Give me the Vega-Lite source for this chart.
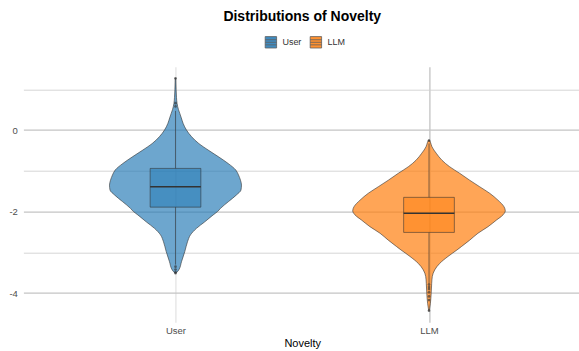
{
  "$schema": "https://vega.github.io/schema/vega-lite/v6.json",
  "width": 557.7,
  "height": 255.6,
  "autosize": {"type": "none"},
  "padding": {"left": 23.4, "top": 66.7, "right": 0, "bottom": 28.7},
  "background": "white",
  "title": {"text": "Distributions of Novelty", "font": "Liberation Sans", "fontSize": 14, "fontWeight": "bold", "color": "#000000", "anchor": "middle", "offset": 12},
  "datasets": {
    "violin": [
      {"group": "User", "value": 1.27, "density": 0.0024},
      {"group": "User", "value": 1.0, "density": 0.0048},
      {"group": "User", "value": 0.8, "density": 0.008},
      {"group": "User", "value": 0.65, "density": 0.0128},
      {"group": "User", "value": 0.5, "density": 0.024},
      {"group": "User", "value": 0.41, "density": 0.0344},
      {"group": "User", "value": 0.3, "density": 0.0464},
      {"group": "User", "value": 0.16, "density": 0.0616},
      {"group": "User", "value": 0.0, "density": 0.088},
      {"group": "User", "value": -0.16, "density": 0.128},
      {"group": "User", "value": -0.33, "density": 0.1864},
      {"group": "User", "value": -0.49, "density": 0.2616},
      {"group": "User", "value": -0.65, "density": 0.3416},
      {"group": "User", "value": -0.82, "density": 0.4216},
      {"group": "User", "value": -0.98, "density": 0.4824},
      {"group": "User", "value": -1.1, "density": 0.504},
      {"group": "User", "value": -1.23, "density": 0.52},
      {"group": "User", "value": -1.35, "density": 0.528},
      {"group": "User", "value": -1.47, "density": 0.524},
      {"group": "User", "value": -1.59, "density": 0.488},
      {"group": "User", "value": -1.76, "density": 0.4216},
      {"group": "User", "value": -1.92, "density": 0.36},
      {"group": "User", "value": -2.0, "density": 0.336},
      {"group": "User", "value": -2.08, "density": 0.3016},
      {"group": "User", "value": -2.25, "density": 0.2344},
      {"group": "User", "value": -2.41, "density": 0.168},
      {"group": "User", "value": -2.57, "density": 0.12},
      {"group": "User", "value": -2.74, "density": 0.096},
      {"group": "User", "value": -2.98, "density": 0.0744},
      {"group": "User", "value": -3.23, "density": 0.048},
      {"group": "User", "value": -3.43, "density": 0.0264},
      {"group": "User", "value": -3.51, "density": 0.004},
      {"group": "LLM", "value": -0.245, "density": 0.004},
      {"group": "LLM", "value": -0.3, "density": 0.012},
      {"group": "LLM", "value": -0.41, "density": 0.024},
      {"group": "LLM", "value": -0.57, "density": 0.0584},
      {"group": "LLM", "value": -0.74, "density": 0.104},
      {"group": "LLM", "value": -0.9, "density": 0.1656},
      {"group": "LLM", "value": -1.06, "density": 0.2456},
      {"group": "LLM", "value": -1.23, "density": 0.3256},
      {"group": "LLM", "value": -1.39, "density": 0.4056},
      {"group": "LLM", "value": -1.55, "density": 0.4856},
      {"group": "LLM", "value": -1.72, "density": 0.552},
      {"group": "LLM", "value": -1.88, "density": 0.6},
      {"group": "LLM", "value": -1.98, "density": 0.6104},
      {"group": "LLM", "value": -2.08, "density": 0.592},
      {"group": "LLM", "value": -2.21, "density": 0.5384},
      {"group": "LLM", "value": -2.37, "density": 0.472},
      {"group": "LLM", "value": -2.53, "density": 0.392},
      {"group": "LLM", "value": -2.7, "density": 0.3256},
      {"group": "LLM", "value": -2.86, "density": 0.2584},
      {"group": "LLM", "value": -2.94, "density": 0.224},
      {"group": "LLM", "value": -3.1, "density": 0.152},
      {"group": "LLM", "value": -3.27, "density": 0.0856},
      {"group": "LLM", "value": -3.43, "density": 0.0456},
      {"group": "LLM", "value": -3.59, "density": 0.0264},
      {"group": "LLM", "value": -3.76, "density": 0.0216},
      {"group": "LLM", "value": -4.0, "density": 0.0176},
      {"group": "LLM", "value": -4.25, "density": 0.0112},
      {"group": "LLM", "value": -4.43, "density": 0.0024}
    ],
    "box": [
      {"group": "User", "lo": -3.3, "q1": -1.89, "median": -1.39, "q3": -0.94, "hi": 0.47},
      {"group": "LLM", "lo": -3.77, "q1": -2.51, "median": -2.04, "q3": -1.65, "hi": -0.33}
    ],
    "outliers": [
      {"group": "User", "value": 1.27},
      {"group": "User", "value": 0.66},
      {"group": "User", "value": 0.58},
      {"group": "User", "value": -3.35},
      {"group": "User", "value": -3.42},
      {"group": "User", "value": -3.48},
      {"group": "User", "value": -3.51},
      {"group": "LLM", "value": -0.26},
      {"group": "LLM", "value": -3.79},
      {"group": "LLM", "value": -3.85},
      {"group": "LLM", "value": -3.9},
      {"group": "LLM", "value": -3.98},
      {"group": "LLM", "value": -4.08},
      {"group": "LLM", "value": -4.17},
      {"group": "LLM", "value": -4.43}
    ]
  },
  "layer": [
    {
      "data": {"name": "violin"},
      "transform": [{"filter": "datum.group == 'User'"}],
      "mark": {"type": "area", "orient": "horizontal", "interpolate": "monotone", "fillOpacity": 0.65, "stroke": "#333333", "strokeWidth": 0.6},
      "encoding": {
        "y": {"field": "value", "type": "quantitative", "title": null, "scale": {"domain": [-4.715, 1.555], "nice": false, "zero": false}, "axis": {"values": [-4, -3, -2, -1, 0, 1], "labelExpr": "datum.value % 2 == 0 ? '' + datum.value : ''", "ticks": false, "domain": false, "grid": true, "gridColor": {"condition": {"test": "datum.value % 2 == 0", "value": "#c4c4c4"}, "value": "#d0d0d0"}, "gridWidth": {"condition": {"test": "datum.value % 2 == 0", "value": 1.2}, "value": 0.9}, "labelFont": "Liberation Sans", "labelFontSize": 9.5, "labelColor": "#4d4d4d", "labelPadding": 6}},
        "x": {"field": "density", "type": "quantitative", "stack": "center", "impute": null, "axis": null, "scale": {"domain": [-0.3444, 1.8864], "nice": false, "zero": false}},
        "color": {"field": "group", "type": "nominal", "scale": {"domain": ["User", "LLM"], "range": ["#1f77b4", "#ff7f0e"]}, "legend": {"title": null, "orient": "none", "legendX": 241, "legendY": -31, "direction": "horizontal", "symbolType": "M-1,-1H1V1H-1Z M-1,-0.45H1 M-1,0H1 M-1,0.45H1", "symbolSize": 130, "symbolStrokeColor": "#444444", "symbolStrokeWidth": 0.8, "symbolOpacity": 0.85, "labelFont": "Liberation Sans", "labelFontSize": 9, "labelColor": "#333333", "labelOffset": 5, "columnPadding": 6, "padding": 0}}
      }
    },
    {
      "data": {"name": "violin"},
      "transform": [{"filter": "datum.group == 'LLM'"}],
      "mark": {"type": "area", "orient": "horizontal", "interpolate": "monotone", "fillOpacity": 0.7, "stroke": "#333333", "strokeWidth": 0.6},
      "encoding": {
        "y": {"field": "value", "type": "quantitative", "title": null, "scale": {"domain": [-4.715, 1.555], "nice": false, "zero": false}, "axis": {"values": [-4, -3, -2, -1, 0, 1], "labelExpr": "datum.value % 2 == 0 ? '' + datum.value : ''", "ticks": false, "domain": false, "grid": true, "gridColor": {"condition": {"test": "datum.value % 2 == 0", "value": "#c4c4c4"}, "value": "#d0d0d0"}, "gridWidth": {"condition": {"test": "datum.value % 2 == 0", "value": 1.2}, "value": 0.9}, "labelFont": "Liberation Sans", "labelFontSize": 9.5, "labelColor": "#4d4d4d", "labelPadding": 6}},
        "x": {"field": "density", "type": "quantitative", "stack": "center", "impute": null, "axis": null, "scale": {"domain": [-1.3172, 0.9136], "nice": false, "zero": false}},
        "color": {"field": "group", "type": "nominal", "scale": {"domain": ["User", "LLM"], "range": ["#1f77b4", "#ff7f0e"]}, "legend": {"title": null, "orient": "none", "legendX": 241, "legendY": -31, "direction": "horizontal", "symbolType": "M-1,-1H1V1H-1Z M-1,-0.45H1 M-1,0H1 M-1,0.45H1", "symbolSize": 130, "symbolStrokeColor": "#444444", "symbolStrokeWidth": 0.8, "symbolOpacity": 0.85, "labelFont": "Liberation Sans", "labelFontSize": 9, "labelColor": "#333333", "labelOffset": 5, "columnPadding": 6, "padding": 0}}
      }
    },
    {
      "data": {"name": "box"},
      "encoding": {
        "x": {"field": "group", "type": "nominal", "scale": {"type": "point", "domain": ["User", "LLM"], "padding": 0.6}, "axis": {"title": "Novelty", "titleFont": "Liberation Sans", "titleFontSize": 11, "titleFontWeight": "normal", "titleColor": "#000000", "titlePadding": 3, "labelFont": "Liberation Sans", "labelFontSize": 9.5, "labelColor": "#4d4d4d", "labelPadding": 3, "labelAngle": 0, "ticks": false, "domain": false, "grid": true, "gridColor": {"condition": {"test": "datum.value == 'LLM'", "value": "#c8c8c8"}, "value": "#e6e6e6"}, "gridWidth": 1.4}}
      },
      "layer": [
        {
          "mark": {"type": "rule", "color": "#333333", "strokeWidth": 0.6},
          "encoding": {
            "y": {"field": "lo", "type": "quantitative", "title": null},
            "y2": {"field": "q1"}
          }
        },
        {
          "mark": {"type": "rule", "color": "#333333", "strokeWidth": 0.6},
          "encoding": {
            "y": {"field": "q3", "type": "quantitative", "title": null},
            "y2": {"field": "hi"}
          }
        },
        {
          "mark": {"type": "bar", "size": 50.7, "fillOpacity": 0.5, "stroke": "#333333", "strokeWidth": 0.7, "strokeOpacity": 0.8},
          "encoding": {
            "y": {"field": "q1", "type": "quantitative", "title": null},
            "y2": {"field": "q3"},
            "color": {"field": "group", "type": "nominal", "scale": {"domain": ["User", "LLM"], "range": ["#1f77b4", "#ff7f0e"]}, "legend": {"title": null, "orient": "none", "legendX": 241, "legendY": -31, "direction": "horizontal", "symbolType": "M-1,-1H1V1H-1Z M-1,-0.45H1 M-1,0H1 M-1,0.45H1", "symbolSize": 130, "symbolStrokeColor": "#444444", "symbolStrokeWidth": 0.8, "symbolOpacity": 0.85, "labelFont": "Liberation Sans", "labelFontSize": 9, "labelColor": "#333333", "labelOffset": 5, "columnPadding": 6, "padding": 0}}
          }
        },
        {
          "mark": {"type": "tick", "size": 50.7, "thickness": 1.4, "color": "#333333", "opacity": 1},
          "encoding": {
            "y": {"field": "median", "type": "quantitative", "title": null}
          }
        },
        {
          "data": {"name": "outliers"},
          "mark": {"type": "circle", "size": 7, "color": "#333333", "opacity": 0.65},
          "encoding": {
            "y": {"field": "value", "type": "quantitative", "title": null}
          }
        }
      ]
    }
  ],
  "resolve": {"scale": {"x": "independent"}},
  "config": {"view": {"stroke": null}}
}
